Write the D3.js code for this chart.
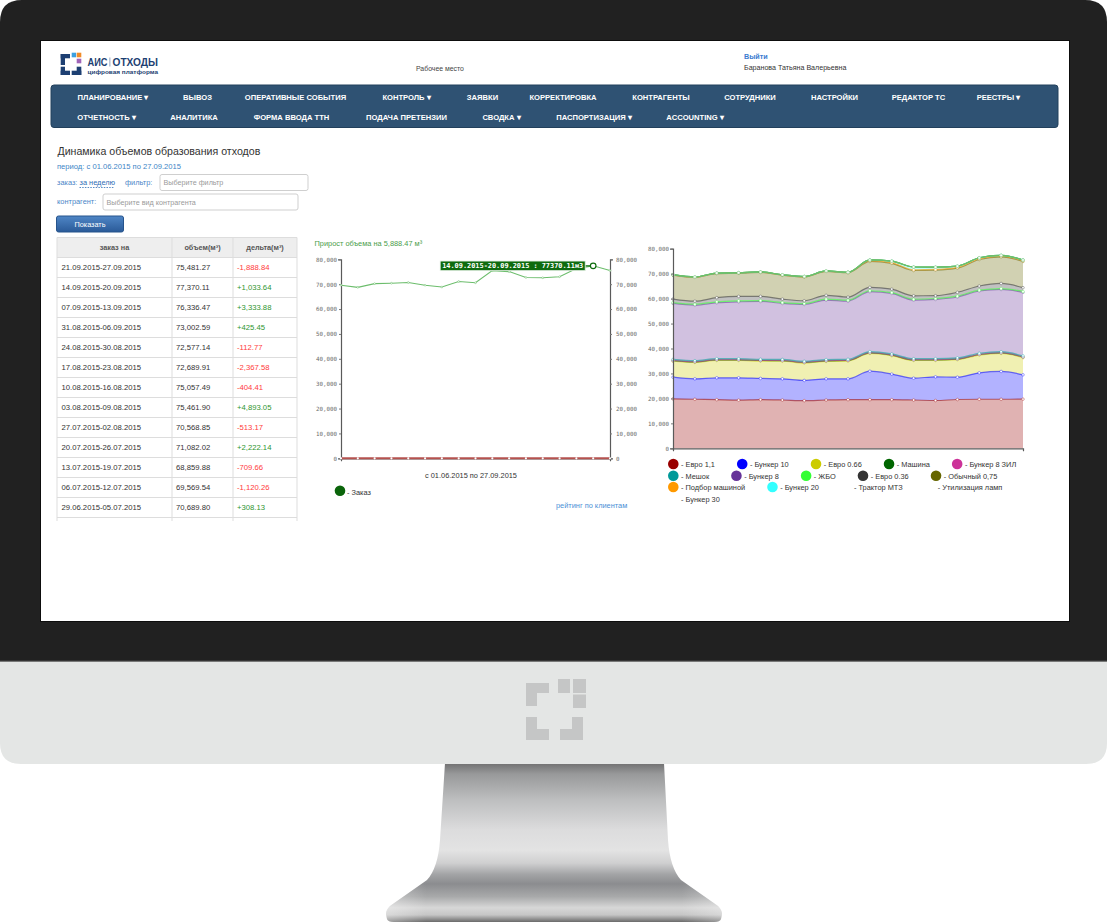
<!DOCTYPE html>
<html><head><meta charset="utf-8">
<script src="https://cdn.jsdelivr.net/npm/d3@7"></script>
<style>
html,body{margin:0;padding:0;background:#fff;overflow:hidden}
svg{display:block}
text{font-family:"Liberation Sans",Arial,sans-serif}
</style></head><body>
<svg id="c"></svg>
<script>
// ================= DATA =================
const weeks = ["01.06.2015-07.06.2015","08.06.2015-14.06.2015","15.06.2015-21.06.2015","22.06.2015-28.06.2015",
  "29.06.2015-05.07.2015","06.07.2015-12.07.2015","13.07.2015-19.07.2015","20.07.2015-26.07.2015",
  "27.07.2015-02.08.2015","03.08.2015-09.08.2015","10.08.2015-16.08.2015","17.08.2015-23.08.2015",
  "24.08.2015-30.08.2015","31.08.2015-06.09.2015","07.09.2015-13.09.2015","14.09.2015-20.09.2015",
  "21.09.2015-27.09.2015"];
const volumes = [69592.80,68720.45,70215.30,70381.67,70689.80,69569.54,68859.88,71082.02,70568.85,
  75461.90,75057.49,72689.91,72577.14,73002.59,76336.47,77370.11,75481.27];
const zeroSeries = [0,0,0,0,0,0,0,0,0,0,0,0,0,0,0,0,0];
const yTicks = [0,10000,20000,30000,40000,50000,60000,70000,80000];

const typeNames = ["Евро 1,1","Бункер 10","Евро 0.66","Машина","Бункер 8 ЗИЛ","Мешок","Бункер 8","ЖБО",
  "Евро 0.36","Обычный 0,75","Подбор машиной","Бункер 20","Трактор МТЗ","Утилизация ламп","Бункер 30"];
const evro11     = [19800,19650,19500,19300,19500,19350,19100,19350,19500,19500,19500,19350,19150,19550,19650,19650,19700];
const bunker10   = [8700,8200,8750,8950,8500,8500,8100,8500,8350,11400,10250,8750,9500,8950,10600,11150,9750];
const evro066    = [6400,6550,6950,6950,6950,7050,6950,6950,7100,7100,7350,7100,6550,7000,7100,7200,6850];
const mashina    = [240,250,260,250,240,250,260,250,240,260,250,240,250,260,250,240,250];
const bunker8zil = [80,70,90,80,80,70,80,90,80,80,70,80,90,80,80,70,80];
const meshok     = [410,400,390,400,410,400,390,400,410,420,400,390,400,410,420,400,410];
const bunker8    = [22440,22270,22410,22810,23190,22440,22790,23880,23330,24030,24260,23480,23750,24380,24940,24960,25460];
const zhbo       = [350,340,360,350,350,340,350,360,350,350,340,350,360,350,350,340,350];
const evro036    = [1390,1240,1660,1790,1660,1390,1120,1520,1250,1380,1380,1390,1120,1530,1660,2060,1520];
const obychny    = [9580,9530,9670,9300,9610,9560,9520,9600,9760,10370,10340,10140,10230,9710,10610,10670,10520];
const podbor     = [150,150,150,150,150,150,150,150,150,300,300,300,300,300,300,300,300];
const bunker20   = [50,50,50,50,50,50,50,50,50,300,600,1100,900,500,400,300,300];
const traktor    = [0,0,0,0,0,0,0,0,0,0,0,0,0,0,0,0,0];
const lampy      = [0,0,0,0,0,0,0,0,0,0,0,0,0,0,0,0,0];
const bunker30   = [0,0,0,0,0,0,0,0,0,0,0,0,0,0,0,0,0];
const typeValues = [evro11,bunker10,evro066,mashina,bunker8zil,meshok,bunker8,zhbo,evro036,obychny,podbor,bunker20,traktor,lampy,bunker30];

const navRow1 = ["ПЛАНИРОВАНИЕ ▾","ВЫВОЗ","ОПЕРАТИВНЫЕ СОБЫТИЯ","КОНТРОЛЬ ▾","ЗАЯВКИ","КОРРЕКТИРОВКА","КОНТРАГЕНТЫ","СОТРУДНИКИ","НАСТРОЙКИ","РЕДАКТОР ТС","РЕЕСТРЫ ▾"];
const navRow2 = ["ОТЧЕТНОСТЬ ▾","АНАЛИТИКА","ФОРМА ВВОДА ТТН","ПОДАЧА ПРЕТЕНЗИИ","СВОДКА ▾","ПАСПОРТИЗАЦИЯ ▾","ACCOUNTING ▾"];
const tableHeaders = ["заказ на","объем(м³)","дельта(м³)"];

// ================= STYLE / LAYOUT =================
const typeColors = ["#990000","#0000ff","#cccc00","#006600","#cc3399","#009999","#663399","#33ff33","#333333","#666600","#ff9900","#33ffff",null,null,null];
const navRow1X = [113,197.5,295.5,406.5,482.5,563,661,750,834.5,918.5,998.5];
const navRow2X = [106.5,194,291.5,406.5,501.5,594,695];
const highlightIndex = 15;

const W = 1107, H = 924;
const svg = d3.select("#c").attr("width", W).attr("height", H);
const defs = svg.append("defs");

function T(g, x, y, s, o = {}) {
  const t = g.append("text").attr("x", x).attr("y", y).text(s)
    .attr("font-size", o.size || 7.5).attr("fill", o.fill || "#333")
    .attr("font-weight", o.weight || "normal").attr("text-anchor", o.anchor || "start")
    .attr("dominant-baseline", "central");
  if (o.family) t.style("font-family", o.family);
  return t;
}

// ---------- Monitor ----------
const sg = defs.append("linearGradient").attr("id", "standGrad").attr("x1", 0).attr("y1", 0).attr("x2", 0).attr("y2", 1);
[[0,"#707071"],[0.07,"#98999a"],[0.23,"#bdbebf"],[0.42,"#dcdcdd"],[0.55,"#e3e3e3"],[0.63,"#cfcfd0"],
 [0.7,"#a3a4a6"],[0.76,"#8b8c8f"],[0.84,"#a8a9aa"],[0.91,"#d7d7d7"],[0.955,"#c6c6c6"],[1,"#6a6a6a"]]
  .forEach(s => sg.append("stop").attr("offset", s[0]).attr("stop-color", s[1]));
const sh = defs.append("linearGradient").attr("id", "standSide").attr("x1", 0).attr("y1", 0).attr("x2", 1).attr("y2", 0);
[[0,"#ffffff",0.35],[0.12,"#ffffff",0],[0.88,"#ffffff",0],[1,"#ffffff",0.3]]
  .forEach(s => sh.append("stop").attr("offset", s[0]).attr("stop-color", s[1]).attr("stop-opacity", s[2]));

const standPath = "M445,763 L664,763 L668,840 Q670,868 681,880 L718,906 Q722,910 722,914 L721,919 Q720,922 714,922 L394,922 Q388,922 387,919 L386,914 Q386,910 390,906 L427,880 Q438,868 440,840 Z";
svg.append("path").attr("d", standPath).attr("fill", "url(#standGrad)");
svg.append("path").attr("d", standPath).attr("fill", "url(#standSide)");

svg.append("path").attr("d", "M0,661 L0,22 Q0,0 22,0 L1085,0 Q1107,0 1107,22 L1107,661 Z").attr("fill", "#212121");
svg.append("path").attr("d", "M0,661 L1107,661 L1107,743 Q1107,764 1086,764 L21,764 Q0,764 0,743 Z").attr("fill", "#e4e6e5");
svg.append("rect").attr("x", 0).attr("y", 660.5).attr("width", W).attr("height", 1.2).attr("fill", "#4a4a4a");

// chin logo
const chinLogo = [[526,683,23,10],[526,683,11,23],[558,679,12,14],[573,679,13,14],[573,694.5,13,13.5],
  [526,717,11,23],[526,729,23,11],[572,717,11,23],[560,729,23,11]];
svg.append("g").selectAll("rect").data(chinLogo).join("rect")
  .attr("x", d => d[0]).attr("y", d => d[1]).attr("width", d => d[2]).attr("height", d => d[3]).attr("fill", "#c5c6c6");

// screen
svg.append("rect").attr("x", 40.5).attr("y", 40.5).attr("width", 1029).attr("height", 581).attr("fill", "#fff").attr("stroke", "#0d0d0d");
const scr = svg.append("g");

// ---------- Header ----------
const logo = scr.append("g");
const navy = "#1d3f72";
[[60.7,54,4.3,11],[60.7,54,9.3,4.3],[60.7,66.7,4.3,8.3],[60.7,70.7,9.3,4.3],[76.7,66.7,4.6,8.3],[71.7,70.7,9.6,4.3]]
  .forEach(r => logo.append("rect").attr("x", r[0]).attr("y", r[1]).attr("width", r[2]).attr("height", r[3]).attr("fill", navy));
logo.append("rect").attr("x", 71.7).attr("y", 52.7).attr("width", 4.4).attr("height", 4.6).attr("fill", "#3ca0e0");
logo.append("rect").attr("x", 76.7).attr("y", 52.7).attr("width", 4.6).attr("height", 4.6).attr("fill", "#f08c28");
logo.append("rect").attr("x", 76.7).attr("y", 58.7).attr("width", 4.6).attr("height", 4.6).attr("fill", "#a064b8");
T(logo, 87.5, 62, "АИС", { size: 10, fill: navy, weight: "bold" }).attr("textLength", 20).attr("lengthAdjust", "spacingAndGlyphs");
logo.append("rect").attr("x", 109.5).attr("y", 57.5).attr("width", 0.8).attr("height", 9).attr("fill", "#7a8eae");
T(logo, 112.5, 62, "ОТХОДЫ", { size: 10, fill: navy, weight: "bold" }).attr("textLength", 45.5).attr("lengthAdjust", "spacingAndGlyphs");
T(logo, 87.5, 72, "цифровая платформа", { size: 5.6, fill: navy, weight: "bold" }).attr("textLength", 70.5).attr("lengthAdjust", "spacingAndGlyphs");

T(scr, 416, 68.5, "Рабочее место", { size: 6.9, fill: "#444" });
T(scr, 744, 56, "Выйти", { size: 7.2, fill: "#3a7bd0", weight: "bold" });
T(scr, 744, 67.5, "Баранова Татьяна Валерьевна", { size: 7.1, fill: "#333" });

// ---------- Navbar ----------
scr.append("rect").attr("x", 51).attr("y", 85).attr("width", 1007).attr("height", 42.5).attr("rx", 3)
  .attr("fill", "#2f5273").attr("stroke", "#22405c");
navRow1.forEach((s, i) => T(scr, navRow1X[i], 97, s, { size: 7.6, fill: "#fff", weight: "bold", anchor: "middle" }));
navRow2.forEach((s, i) => T(scr, navRow2X[i], 117.5, s, { size: 7.6, fill: "#fff", weight: "bold", anchor: "middle" }));

// ---------- Left panel ----------
T(scr, 57.5, 151, "Динамика объемов образования отходов", { size: 10.6, fill: "#333" });
const first = weeks[0].split("-")[0], last = weeks[weeks.length - 1].split("-")[1];
T(scr, 57, 166, `период: с ${first} по ${last}`, { size: 7.6, fill: "#3d85c6" });
T(scr, 57, 182.5, "заказ:", { size: 7.4, fill: "#4a86c8" });
T(scr, 79.5, 182.5, "за неделю", { size: 7.4, fill: "#2f6db5" });
scr.append("line").attr("x1", 79.5).attr("x2", 114.5).attr("y1", 187.5).attr("y2", 187.5).attr("stroke", "#2f6db5").attr("stroke-dasharray", "1.5,1.2").attr("stroke-width", 0.8);
T(scr, 125, 182.5, "фильтр:", { size: 7.4, fill: "#4a86c8" });
scr.append("rect").attr("x", 160).attr("y", 174.5).attr("width", 148).attr("height", 16).attr("rx", 2).attr("fill", "#fff").attr("stroke", "#cfcfcf");
T(scr, 163.5, 182.7, "Выберите фильтр", { size: 7.2, fill: "#9a9a9a" });
T(scr, 57, 201.5, "контрагент:", { size: 7.4, fill: "#4a86c8" });
scr.append("rect").attr("x", 103).attr("y", 194).attr("width", 195).attr("height", 16).attr("rx", 2).attr("fill", "#fff").attr("stroke", "#cfcfcf");
T(scr, 106.5, 202.2, "Выберите вид контрагента", { size: 7.2, fill: "#9a9a9a" });

const bg = defs.append("linearGradient").attr("id", "btnGrad").attr("x1", 0).attr("y1", 0).attr("x2", 0).attr("y2", 1);
bg.append("stop").attr("offset", 0).attr("stop-color", "#4f86c6");
bg.append("stop").attr("offset", 1).attr("stop-color", "#2a5a98");
scr.append("rect").attr("x", 56.5).attr("y", 216).attr("width", 67).attr("height", 16).attr("rx", 2).attr("fill", "url(#btnGrad)").attr("stroke", "#27548c");
T(scr, 90, 224.2, "Показать", { size: 7.3, fill: "#fff", anchor: "middle" });

// ---------- Table ----------
defs.append("clipPath").attr("id", "tclip").append("rect").attr("x", 50).attr("y", 230).attr("width", 260).attr("height", 291);
const tg = scr.append("g").attr("clip-path", "url(#tclip)");
const colX = [57, 172, 233, 297];
const rowH = 20, headY = 237.5;
tg.append("rect").attr("x", colX[0]).attr("y", headY).attr("width", colX[3] - colX[0]).attr("height", rowH).attr("fill", "#eeeeee");
tableHeaders.forEach((h, i) => T(tg, (colX[i] + colX[i + 1]) / 2, headY + rowH / 2, h, { size: 7.3, fill: "#555", weight: "bold", anchor: "middle" }));
const tableIdx = d3.range(weeks.length - 1, 2, -1);
const fmt = d3.format(",.2f");
tableIdx.forEach((wi, r) => {
  const y = headY + rowH * (r + 1);
  const delta = volumes[wi] - volumes[wi - 1];
  T(tg, 61.5, y + rowH / 2, weeks[wi], { size: 7.7, fill: "#333" });
  T(tg, 176, y + rowH / 2, fmt(volumes[wi]), { size: 7.7, fill: "#333" });
  T(tg, 237, y + rowH / 2, (delta < 0 ? "-" : "+") + fmt(Math.abs(delta)), { size: 7.7, fill: delta < 0 ? "#ff3b3b" : "#2f962f" });
});
const nRows = tableIdx.length + 1;
d3.range(nRows + 1).forEach(r => tg.append("line").attr("x1", colX[0]).attr("x2", colX[3])
  .attr("y1", headY + r * rowH).attr("y2", headY + r * rowH).attr("stroke", "#dddddd"));
colX.forEach(x => tg.append("line").attr("x1", x).attr("x2", x).attr("y1", headY).attr("y2", headY + nRows * rowH).attr("stroke", "#dddddd"));

// ---------- Axis styling helper ----------
function axisStyle(g) {
  g.attr("font-family", null).attr("font-size", null);
  g.select(".domain").attr("stroke", "#5a5a5a").attr("stroke-width", 1.2);
  g.selectAll(".tick line").attr("stroke", "#777");
  g.selectAll(".tick text").attr("fill", "#6a6a6a").style("font-family", "'DejaVu Sans Mono',monospace").style("font-size", "5.8px");
}

// ---------- Line chart ----------
const lx = d3.scalePoint().domain(weeks).range([341, 610]);
const ly = d3.scaleLinear().domain([0, 80000]).range([458.3, 259.3]);
const lg = scr.append("g");
T(lg, 314.5, 243.5, `Прирост объема  на ${fmt(volumes[volumes.length - 1] - volumes[0])} м³`, { size: 7.4, fill: "#4a9d4a" });
lg.append("g").attr("transform", "translate(341,0)")
  .call(d3.axisLeft(ly).tickValues(yTicks).tickSizeInner(2).tickSizeOuter(3).tickPadding(2).tickFormat(d3.format(","))).call(axisStyle);
lg.append("g").attr("transform", "translate(610,0)")
  .call(d3.axisRight(ly).tickValues(yTicks).tickSizeInner(2).tickSizeOuter(3).tickPadding(4).tickFormat(d3.format(","))).call(axisStyle);
lg.append("g").attr("transform", "translate(0,458.3)")
  .call(d3.axisBottom(lx).tickValues([]).tickSizeOuter(3)).call(axisStyle);

const lineGen = d3.line().x((d, i) => lx(weeks[i])).y(d => ly(d));
lg.append("path").datum(zeroSeries).attr("d", lineGen).attr("fill", "none").attr("stroke", "#b5524f").attr("stroke-width", 2);
lg.append("g").selectAll("circle").data(zeroSeries).join("circle")
  .attr("cx", (d, i) => lx(weeks[i])).attr("cy", d => ly(d)).attr("r", 1.1).attr("fill", "#fff");
lg.append("path").datum(volumes).attr("d", lineGen).attr("fill", "none").attr("stroke", "#6cbd6c").attr("stroke-width", 1.1);
lg.append("g").selectAll("circle").data(volumes).join("circle")
  .attr("cx", (d, i) => lx(weeks[i])).attr("cy", d => ly(d)).attr("r", 0.9).attr("fill", "#fff").attr("stroke", "#6cbd6c").attr("stroke-width", 0.5);

// tooltip
const hx = lx(weeks[highlightIndex]), hy = ly(volumes[highlightIndex]);
const tipW = 145, tipH = 9.6;
lg.append("line").attr("x1", hx - 8).attr("x2", hx - 3).attr("y1", hy).attr("y2", hy).attr("stroke", "#0e6b0e").attr("stroke-width", 1.2);
lg.append("rect").attr("x", hx - 8 - tipW).attr("y", hy - tipH / 2).attr("width", tipW).attr("height", tipH)
  .attr("fill", "#0e6b0e").attr("stroke", "#e6f2e6").attr("stroke-width", 0.8);
T(lg, hx - 8 - tipW / 2, hy + 0.3, `${weeks[highlightIndex]} : ${volumes[highlightIndex].toFixed(2)}м3`,
  { size: 6.9, fill: "#fff", weight: "bold", anchor: "middle", family: "'DejaVu Sans Mono',monospace" });
lg.append("circle").attr("cx", hx).attr("cy", hy).attr("r", 2.8).attr("fill", "#fff").attr("stroke", "#0e6b0e").attr("stroke-width", 1.2);

T(lg, 471, 475, `с ${first} по ${last}`, { size: 7.4, fill: "#333", anchor: "middle" });
lg.append("circle").attr("cx", 340).attr("cy", 490.8).attr("r", 5.3).attr("fill", "#0a640a");
T(lg, 347, 492, "- Заказ", { size: 7.4, fill: "#333" });
T(lg, 556, 505, "рейтинг по клиентам", { size: 7.4, fill: "#4a8fd6" });

// ---------- Stacked area chart ----------
const sx = d3.scalePoint().domain(weeks).range([673, 1023]);
const sy = d3.scaleLinear().domain([0, 80000]).range([448.3, 248.7]);
const ag = scr.append("g");
const stackRows = weeks.map((w, i) => { const r = { week: w }; typeNames.forEach((n, k) => r[n] = typeValues[k][i]); return r; });
const stacked = d3.stack().keys(typeNames)(stackRows);
const area = d3.area().x((d, i) => sx(weeks[i])).y0(d => sy(d[0])).y1(d => sy(d[1])).curve(d3.curveMonotoneX);
const topLine = d3.line().x((d, i) => sx(weeks[i])).y(d => sy(d[1])).curve(d3.curveMonotoneX);
const topColor = "#6cbf6c";

ag.selectAll("path.area").data(stacked).join("path").attr("class", "area")
  .attr("d", area).attr("fill", (d, k) => typeColors[k] || "none").attr("fill-opacity", 0.3);
ag.selectAll("path.top").data(stacked).join("path").attr("class", "top")
  .attr("d", topLine).attr("fill", "none")
  .attr("stroke", (d, k) => typeColors[k] || topColor).attr("stroke-opacity", (d, k) => typeColors[k] ? 0.55 : 1).attr("stroke-width", 1.2);
stacked.forEach((layer, k) => {
  ag.append("g").selectAll("circle").data(layer).join("circle")
    .attr("cx", (d, i) => sx(weeks[i])).attr("cy", d => sy(d[1])).attr("r", 1.3)
    .attr("fill", "#fff").attr("stroke", typeColors[k] || topColor).attr("stroke-opacity", 0.6).attr("stroke-width", 0.6);
});
ag.append("g").attr("transform", "translate(673,0)")
  .call(d3.axisLeft(sy).tickValues(yTicks).tickSizeInner(2).tickSizeOuter(3).tickPadding(2).tickFormat(d3.format(","))).call(axisStyle);
ag.append("g").attr("transform", "translate(0,448.3)")
  .call(d3.axisBottom(sx).tickValues([]).tickSizeOuter(3)).call(axisStyle);

// legend (flow layout)
const legG = ag.append("g");
const legRowY = [464, 475.8, 487, 498.3];
let lxPos = 668, row = 0;
const legMaxX = 1045;
typeNames.forEach((n, k) => {
  const probe = T(legG, 0, -50, "- " + n, { size: 7.4, fill: "#333" });
  const tw = probe.node().getComputedTextLength();
  probe.remove();
  if (lxPos + 13 + tw > legMaxX && lxPos > 668) { row++; lxPos = 668; }
  const y = legRowY[row];
  if (typeColors[k]) legG.append("circle").attr("cx", lxPos + 5.3).attr("cy", y).attr("r", 5.3).attr("fill", typeColors[k]);
  T(legG, lxPos + 13, y + 0.8, "- " + n, { size: 7.4, fill: "#333" });
  lxPos += 13 + tw + 22;
});
</script>
</body></html>
